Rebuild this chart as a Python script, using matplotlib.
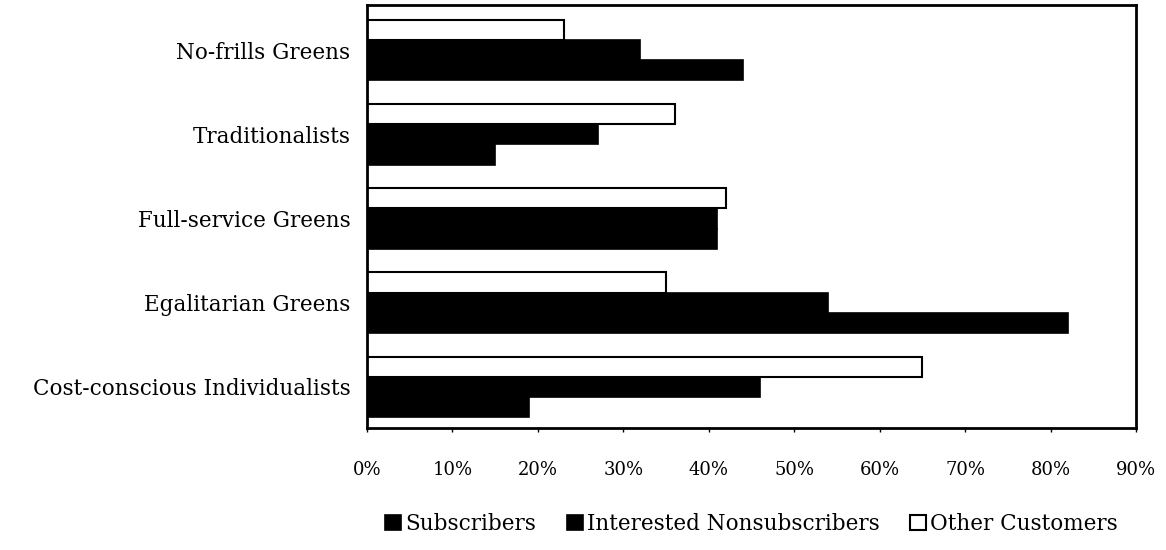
import numpy as np
import matplotlib.pyplot as plt
from matplotlib.ticker import PercentFormatter

plt.rcParams['font.family'] = ['DejaVu Serif']
plt.rcParams['hatch.color'] = '#bbbbbb'
plt.rcParams['hatch.linewidth'] = 0.4

# segments, bottom to top
segments = ['Cost-conscious Individualists', 'Egalitarian Greens',
            'Full-service Greens', 'Traditionalists', 'No-frills Greens']
subscribers = [19, 82, 41, 15, 44]
interested = [46, 54, 41, 27, 32]
other = [65, 35, 42, 36, 23]

y = np.arange(len(segments))
h = 0.24

fig = plt.figure(figsize=(11.66, 5.5), dpi=100)
ax = fig.add_axes([0.3148, 0.2218, 0.6595, 0.769])

ax.barh(y - h, subscribers, h, color='black', edgecolor='black',
        linewidth=1.2, label='Subscribers')
ax.barh(y, interested, h, color='black', edgecolor='black',
        linewidth=1.2, hatch='.', label='Interested Nonsubscribers')
ax.barh(y + h, other, h, color='white', edgecolor='black',
        linewidth=1.5, label='Other Customers')

ax.set_xlim(0, 90)
ax.set_ylim(-0.487, 4.534)
ax.set_xticks(np.arange(0, 91, 10))
ax.xaxis.set_major_formatter(PercentFormatter(decimals=0))
ax.set_yticks(y)
ax.set_yticklabels(segments)
ax.tick_params(axis='x', labelsize=13, pad=21, length=3, width=1)
ax.tick_params(axis='y', labelsize=15.5, length=0, pad=12)
for s in ax.spines.values():
    s.set_linewidth(2)

ax.legend(loc='upper center', bbox_to_anchor=(0.5, -0.155), ncol=3,
          frameon=False, fontsize=15.5, handlelength=0.75, handleheight=0.75,
          handletextpad=0.2, columnspacing=1.4)

fig.savefig('out.png', dpi=100)
